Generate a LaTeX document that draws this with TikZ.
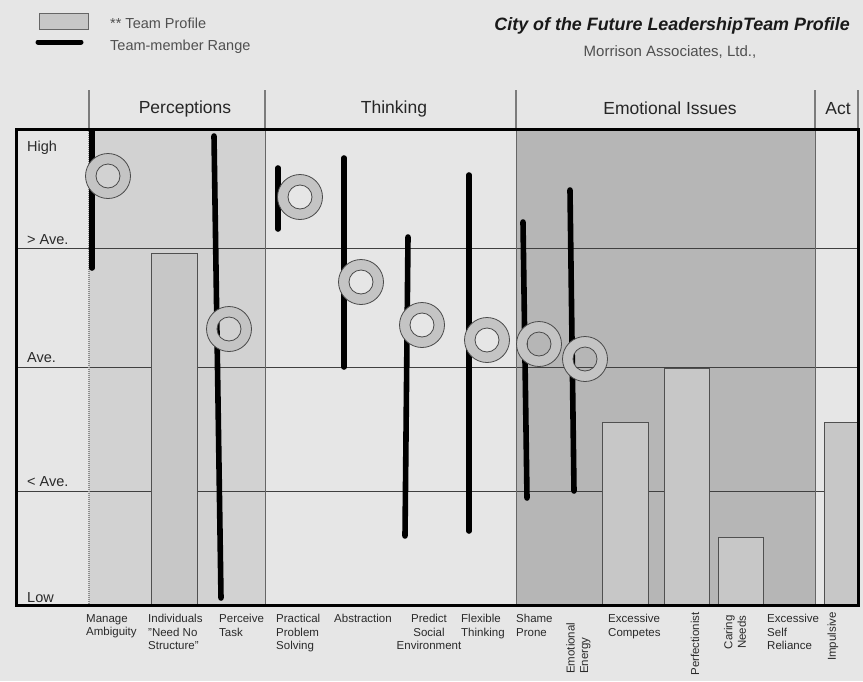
\documentclass[tikz,border=0pt]{standalone}
\usepackage{fontspec}
\setmainfont{Liberation Sans}
\definecolor{pagebg}{HTML}{E6E6E6}
\definecolor{percbg}{HTML}{D2D2D2}
\definecolor{emobg}{HTML}{B6B6B6}
\definecolor{barfill}{HTML}{C7C7C7}
\definecolor{bardraw}{HTML}{505050}
\definecolor{ringfill}{HTML}{C4C4C4}
\definecolor{ringdraw}{HTML}{4A4A4A}
\definecolor{gridc}{HTML}{404040}
\definecolor{hdrsepc}{HTML}{7C7C7C}
\definecolor{labc}{HTML}{2A2A2A}
\definecolor{softtext}{HTML}{505050}
\begin{document}
\begin{tikzpicture}[x=1pt,y=-1pt,
  gridline/.style={draw=gridc,line width=0.9pt},
  colsep/.style={draw=gridc!80,line width=0.8pt},
  hdrsep/.style={draw=hdrsepc,line width=2.6pt},
  teambar/.style={fill=barfill,draw=bardraw,line width=0.8pt},
  rangeline/.style={line width=5.6pt,line cap=round,draw=black},
  ring/.style={fill=ringfill,draw=ringdraw,line width=0.8pt,even odd rule},
  lbl/.style={font=\fontsize{11.5}{13.5}\selectfont,text=labc,inner sep=0pt,align=left,anchor=north west},
  vlbl/.style={font=\fontsize{11.5}{13.5}\selectfont,text=labc,inner sep=0pt,rotate=90,anchor=east,align=center},
  axislbl/.style={font=\fontsize{14.5}{16}\selectfont,text=labc,inner sep=0pt,anchor=west},
  hdr/.style={font=\fontsize{17.5}{20}\selectfont,text=black!85,inner sep=0pt},
  legtext/.style={font=\fontsize{14.5}{16}\selectfont,text=softtext,inner sep=0pt,anchor=west}
]
% page
\fill[pagebg] (0,0) rectangle (863,681);
\useasboundingbox (0,0) rectangle (863,681);

% column backgrounds
\fill[percbg] (89,129) rectangle (265,605);
\fill[emobg] (516,129) rectangle (815,605);

% level lines
\foreach \yy in {248,367,491} \draw[gridline] (16,\yy) -- (858,\yy);

% column separators
\draw[colsep] (265,129) -- (265,605);
\draw[colsep] (516,129) -- (516,605);
\draw[colsep] (815,129) -- (815,605);
\draw[draw=black!45,line width=1.6pt,dash pattern=on 1pt off 1pt] (89,129) -- (89,605);

% team profile bars
\draw[teambar] (151,253) rectangle (197,605);
\draw[teambar] (602,422) rectangle (648,605);
\draw[teambar] (664,368) rectangle (709,605);
\draw[teambar] (718,537) rectangle (763,605);
\draw[teambar] (824,422) rectangle (858,605);

% team-member ranges
\draw[rangeline] (92,131) -- (92,268);
\draw[rangeline] (214,136) -- (221,598);
\draw[rangeline] (278,168) -- (278,229);
\draw[rangeline] (344,158) -- (344,367);
\draw[rangeline] (408,237) -- (405,536);
\draw[rangeline] (469,175) -- (469,531);
\draw[rangeline] (523,222) -- (527,498);
\draw[rangeline] (570,190) -- (574,491);

% individual markers
\foreach \cx/\cy in {108/176,229/329,300/197,361/282,422/325,487/340,539/344,585/359}
  \path[ring] (\cx,\cy) circle[radius=22.5] (\cx,\cy) circle[radius=12];

% frame
\draw[black,line width=3pt] (16,129) rectangle (858,605);

% header separators and titles
\foreach \xx in {89,265,516,815,858} \draw[hdrsep] (\xx,90) -- (\xx,128);
\node[hdr] (hPerc) at (185,108.5) {Perceptions};
\node[hdr] (hThink) at (394,108.5) {Thinking};
\node[hdr] (hEmo) at (670,108.5) {Emotional Issues};
\node[hdr] (hAct) at (838,108.5) {Act};

% level labels
\node[axislbl] (lHigh) at (27,148) {High};
\node[axislbl] (lAbove) at (27,240) {> Ave.};
\node[axislbl] (lAve) at (27,358) {Ave.};
\node[axislbl] (lBelow) at (27,482) {< Ave.};
\node[axislbl] (lLow) at (27,598) {Low};

% scale labels
\node[lbl] (sMA) at (86,614) {Manage\\Ambiguity};
\node[lbl] (sIN) at (148,614) {Individuals\\"Need No\\Structure"};
\node[lbl] (sPT) at (219,614) {Perceive\\Task};
\node[lbl] (sPP) at (276,614) {Practical\\Problem\\Solving};
\node[lbl] (sAB) at (334,614) {Abstraction};
\node[lbl,anchor=north,align=center] (sPS) at (429,614) {Predict\\Social\\Environment};
\node[lbl] (sFT) at (461,614) {Flexible\\Thinking};
\node[lbl] (sSP) at (516,614) {Shame\\Prone};
\node[vlbl,anchor=west,align=left] (sEE) at (578.5,674) {Emotional\\Energy};
\node[lbl] (sEC) at (608,614) {Excessive\\Competes};
\node[vlbl] (sPF) at (695,612) {Perfectionist};
\node[vlbl] (sCN) at (735,615) {Caring\\Needs};
\node[lbl] (sSR) at (767,614) {Excessive\\Self\\Reliance};
\node[vlbl] (sIM) at (833,612) {Impulsive};

% legend
\draw[fill=barfill,draw=black!60,line width=0.8pt] (39,13) rectangle (88,29);
\draw[line width=5pt,line cap=round] (38,42) -- (81,42);
\node[legtext] (legBar) at (110,23) {** Team Profile};
\node[legtext] (legRange) at (110,47) {Team-member Range};

% title block
\node[font=\fontsize{17.9}{20}\selectfont\bfseries\itshape,text=black!90,inner sep=0pt,anchor=east] (title) at (850,26) {City of the Future LeadershipTeam Profile};
\node[font=\fontsize{15}{17}\selectfont,text=softtext,inner sep=0pt] (firm) at (670,52) {Morrison Associates, Ltd.,};
\end{tikzpicture}
\end{document}
